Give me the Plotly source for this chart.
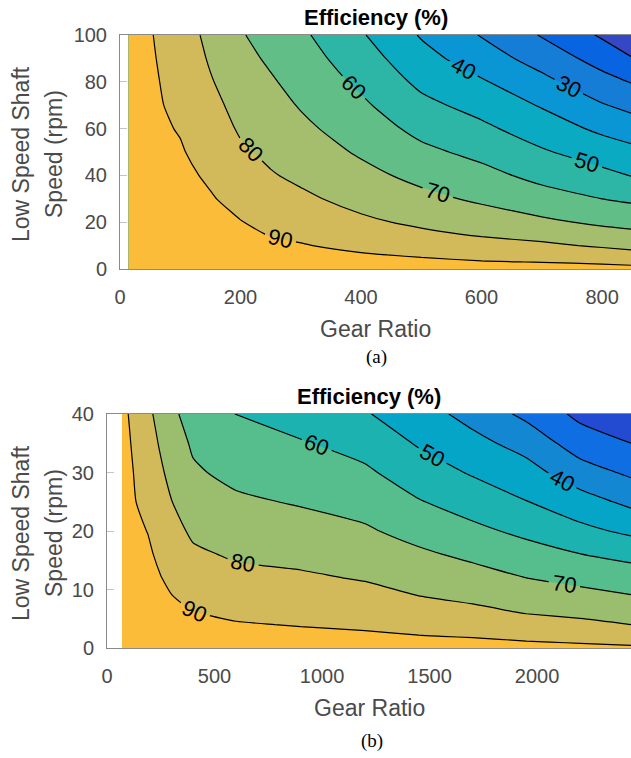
import numpy as np
import plotly.graph_objects as go

# ---------------- data ----------------
# (a) gear ratio columns and low-speed-shaft speed rows
GEAR_RATIO_A = [14, 50, 100, 150, 200, 250, 300, 400, 500, 600, 700, 800, 850]
SPEED_A = [0, 3, 6, 10, 15, 20, 30, 40, 50, 60, 70, 80, 90, 100]
# efficiency (%) at each speed, one list per gear ratio column
EFF_A_BY_RATIO = [
    [98.2, 98.0, 97.8, 97.4, 97.0, 96.5, 95.6, 94.8, 94.0, 93.4, 93.0, 92.7, 92.4, 92.1],
    [97.8, 97.6, 97.3, 96.8, 96.2, 95.6, 94.4, 93.4, 92.6, 91.8, 91.4, 91.3, 91.0, 90.6],
    [97.5, 97.1, 96.7, 96.1, 95.5, 94.8, 93.4, 92.1, 90.7, 89.5, 88.3, 87.2, 86.0, 84.8],
    [97.0, 96.4, 95.7, 94.9, 93.8, 92.8, 90.7, 88.7, 86.7, 84.7, 82.7, 80.7, 79.0, 77.5],
    [96.5, 95.6, 94.6, 93.4, 91.9, 90.3, 87.3, 84.4, 81.4, 78.9, 76.9, 74.9, 72.8, 70.8],
    [96.0, 94.7, 93.4, 91.6, 89.5, 87.8, 84.2, 80.7, 78.1, 75.7, 73.4, 71.0, 68.6, 66.2],
    [95.5, 94.0, 92.5, 90.5, 88.3, 86.1, 81.7, 78.2, 75.1, 72.1, 69.3, 66.8, 64.3, 61.8],
    [95.0, 92.8, 90.7, 88.0, 84.9, 81.7, 77.0, 72.8, 68.8, 65.2, 61.7, 58.1, 54.6, 51.0],
    [94.5, 91.7, 89.1, 85.8, 81.7, 78.3, 72.6, 67.3, 62.2, 57.3, 52.5, 47.8, 43.4, 39.2],
    [94.0, 90.5, 87.4, 83.5, 78.9, 75.3, 68.4, 62.9, 57.4, 52.0, 46.6, 41.0, 34.9, 29.4],
    [93.5, 89.8, 86.3, 81.7, 76.6, 71.8, 64.0, 57.2, 51.1, 45.1, 39.2, 32.7, 25.9, 19.3],
    [93.0, 88.7, 84.3, 78.9, 73.3, 68.3, 60.0, 52.6, 45.3, 38.0, 30.7, 23.4, 16.1, 8.7],
    [92.6, 87.7, 82.9, 77.5, 71.9, 67.1, 58.3, 49.6, 42.6, 35.0, 27.2, 19.4, 10.4, 2.0],
]

# (b)
GEAR_RATIO_B = [70, 100, 135, 190, 250, 300, 400, 600, 900, 1200, 1450, 1700, 1950, 2200, 2437]
SPEED_B = [0, 1, 2, 4, 6, 9, 12, 16, 20, 25, 30, 35, 40]
EFF_B_BY_RATIO = [
    [98.3, 98.2, 98.0, 97.7, 97.4, 96.9, 96.4, 95.8, 95.2, 94.4, 93.6, 92.8, 92.0],
    [98.0, 97.8, 97.6, 97.2, 96.8, 96.2, 95.6, 94.8, 94.0, 92.9, 91.9, 90.9, 89.9],
    [97.5, 97.2, 96.9, 96.3, 95.7, 94.8, 93.9, 92.7, 91.5, 90.0, 89.0, 87.9, 86.9],
    [97.0, 96.6, 96.3, 95.6, 94.9, 93.8, 92.7, 91.3, 89.8, 87.9, 86.0, 84.1, 82.2],
    [96.5, 96.0, 95.5, 94.4, 93.4, 91.8, 90.2, 88.2, 86.2, 83.8, 81.3, 78.9, 76.5],
    [96.0, 95.3, 94.7, 93.4, 92.0, 90.1, 88.2, 85.7, 83.3, 80.2, 77.3, 74.5, 71.6],
    [95.5, 94.6, 93.7, 92.0, 90.2, 87.6, 85.0, 81.6, 78.4, 74.8, 71.2, 68.8, 66.9],
    [95.0, 93.9, 92.8, 90.6, 88.5, 85.5, 82.5, 78.8, 75.6, 71.5, 67.6, 63.7, 59.8],
    [94.5, 93.3, 92.0, 89.6, 87.5, 84.4, 81.3, 77.4, 73.8, 69.2, 65.0, 60.8, 55.3],
    [94.0, 92.6, 91.2, 88.7, 86.3, 82.7, 79.3, 75.3, 71.2, 66.4, 61.6, 56.3, 50.8],
    [93.5, 91.9, 90.3, 87.3, 84.3, 79.9, 76.3, 71.6, 66.7, 60.6, 54.7, 49.1, 44.3],
    [93.0, 91.3, 89.6, 86.0, 82.4, 77.7, 73.6, 68.0, 62.3, 55.6, 49.1, 43.0, 36.6],
    [92.5, 90.4, 88.3, 83.9, 79.7, 74.8, 70.0, 63.9, 57.8, 50.3, 43.8, 36.3, 27.7],
    [92.0, 89.5, 87.1, 82.2, 78.0, 72.7, 67.3, 60.2, 52.5, 44.1, 34.3, 25.2, 17.6],
    [91.3, 88.5, 85.6, 80.0, 76.1, 70.2, 64.9, 57.2, 48.1, 37.7, 28.3, 20.0, 11.7],
]

CONTOUR_START, CONTOUR_END, CONTOUR_STEP = 10, 90, 10

X_TICKS_A = [0, 200, 400, 600, 800]
Y_TICKS_A = [0, 20, 40, 60, 80, 100]
X_TICKS_B = [0, 500, 1000, 1500, 2000]
Y_TICKS_B = [0, 10, 20, 30, 40]

# band colours: <10, 10-20, ..., 80-90, >=90
BAND_COLORS_A = ['#3448C6', '#0864E1', '#167DD7', '#0A96D4', '#0AAAC3',
                 '#2DB6A5', '#62BE87', '#A5BE6E', '#D2BA5A', '#FBBC3A']
BAND_COLORS_B = ['#2A44CC', '#234BD2', '#0F6EE1', '#1487D2', '#05A5C8',
                 '#1CB2AF', '#55BE8C', '#9BBE6E', '#D2B95A', '#FBBC3A']

TITLE = 'Efficiency (%)'
X_TITLE = 'Gear Ratio'
Y_TITLE_LINES = ['Low Speed Shaft', 'Speed (rpm)']
CAPTIONS = ['(a)', '(b)']

# ---------------- figure ----------------
W, H = 631, 758
SANS = 'Liberation Sans, Arial, Helvetica, sans-serif'
SERIF = 'Liberation Serif, Times New Roman, serif'
TICK_COLOR = '#4a4a4a'


def step_scale(colors):
    n = len(colors) - 1
    sc = []
    for k, c in enumerate(colors):
        lo = max(0.0, (k - 0.5) / n)
        hi = min(1.0, (k + 0.5) / n)
        sc.append([lo, c])
        sc.append([hi, c])
    return sc


def contour(x, y, zcols, colors, xa, ya):
    z = np.array(zcols, dtype=float).T  # rows = speed, cols = ratio
    return go.Contour(
        x=x, y=y, z=z, xaxis=xa, yaxis=ya,
        autocontour=False,
        contours=dict(start=CONTOUR_START, end=CONTOUR_END, size=CONTOUR_STEP,
                      coloring='fill', showlabels=True,
                      labelfont=dict(size=22, color='black', family=SANS)),
        colorscale=step_scale(colors), showscale=False,
        line=dict(color='black', width=1.2, smoothing=0.6),
        hoverinfo='skip',
    )


fig = go.Figure()
fig.add_trace(contour(GEAR_RATIO_A, SPEED_A, EFF_A_BY_RATIO, BAND_COLORS_A, 'x', 'y'))
fig.add_trace(contour(GEAR_RATIO_B, SPEED_B, EFF_B_BY_RATIO, BAND_COLORS_B, 'x2', 'y2'))

# plot-area pixel boxes
A_L, A_T, A_B = 120, 35, 269
B_L, B_T, B_B = 107, 414, 648


def xax(left, rng, ticks):
    return dict(domain=[left / W, 1.0], range=rng, tickvals=ticks, automargin=False,
                showline=True, linecolor='#8a8a8a', linewidth=1, mirror=True,
                ticks='', showgrid=False, zeroline=False,
                tickfont=dict(size=20, color=TICK_COLOR, family=SANS),
                ticklabelstandoff=10)


def yax(top, bot, rng, ticks, anchor):
    return dict(domain=[1 - bot / H, 1 - top / H], range=rng, tickvals=ticks,
                automargin=False,
                showline=True, linecolor='#8a8a8a', linewidth=1, mirror=False,
                ticks='inside', ticklen=7, tickcolor='#c4c4c4',
                showgrid=False, zeroline=False, anchor=anchor,
                tickfont=dict(size=20, color=TICK_COLOR, family=SANS),
                ticklabelstandoff=8)


fig.update_layout(
    template='none',
    width=W, height=H,
    margin=dict(l=0, r=0, t=0, b=0, pad=0, autoexpand=False),
    paper_bgcolor='white', plot_bgcolor='white', showlegend=False,
    xaxis=dict(xax(A_L, [0, 848], X_TICKS_A), anchor='y'),
    yaxis=yax(A_T, A_B, [0, 100], Y_TICKS_A, 'x'),
    xaxis2=dict(xax(B_L, [0, 2437], X_TICKS_B), anchor='y2'),
    yaxis2=yax(B_T, B_B, [0, 40], Y_TICKS_B, 'x2'),
)

ann = []


def add_text(text, px, py, size, color, family, angle=0):
    ann.append(dict(text=text, x=px / W, y=1 - py / H, xref='paper', yref='paper',
                    xanchor='center', yanchor='middle', showarrow=False,
                    textangle=angle, font=dict(size=size, color=color, family=family)))


for left, top, bot, cap, xcap, ycap in [
    (A_L, A_T, A_B, CAPTIONS[0], 376, 357),
    (B_L, B_T, B_B, CAPTIONS[1], 372, 741),
]:
    cx = (left + W) / 2
    cy = (top + bot) / 2
    add_text('<b>' + TITLE + '</b>', cx, top - 18, 22, 'black', SANS)
    add_text(X_TITLE, cx, bot + 60, 23, TICK_COLOR, SANS)
    add_text(cap, xcap, ycap, 19, 'black', SERIF)
    for line, px in zip(Y_TITLE_LINES, [21, 54]):
        add_text(line, px, cy + 2, 23, TICK_COLOR, SANS, angle=-90)

fig.update_layout(annotations=ann)
fig.write_html('out.html')
